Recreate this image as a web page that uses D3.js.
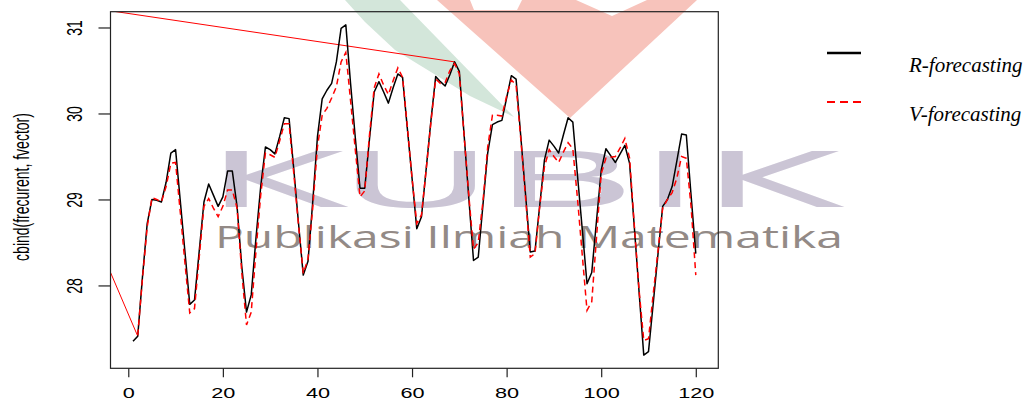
<!DOCTYPE html>
<html>
<head>
<meta charset="utf-8">
<script src="https://cdn.jsdelivr.net/npm/d3@7"></script>
<style>
  body { margin: 0; background: #fff; }
</style>
</head>
<body>
<div id="container"></div>
<script>
// Chart size and plot region (R base-graphics look)
const width = 1029;
const height = 407;
const marginTop = 11.7;
const marginRight = 310.7;
const marginBottom = 38.7;
const marginLeft = 110.5;
const stretch = 1.55; // the picture is wider than tall, so axis text looks stretched

// Data: time index and the two forecast series
const times = d3.range(1, 121);
const rForecast = [
  27.35, 27.41, 28.10, 28.72, 29.00, 28.99, 28.97, 29.20, 29.54, 29.58,
  28.98, 28.38, 27.78, 27.83, 28.40, 28.97, 29.18, 29.05, 28.92, 29.03,
  29.33, 29.33, 28.92, 28.22, 27.69, 27.89, 28.55, 29.15, 29.61, 29.58,
  29.53, 29.73, 29.95, 29.94, 29.35, 28.72, 28.12, 28.28, 28.97, 29.73,
  30.17, 30.27, 30.35, 30.60, 30.99, 31.03, 30.35, 29.72, 29.13, 29.13,
  29.70, 30.25, 30.37, 30.25, 30.12, 30.30, 30.46, 30.42, 29.83, 29.25,
  28.66, 28.80, 29.36, 29.92, 30.43, 30.37, 30.32, 30.45, 30.60, 30.49,
  29.76, 29.02, 28.29, 28.33, 28.94, 29.54, 29.87, 29.90, 29.92, 30.18,
  30.44, 30.40, 29.73, 29.06, 28.39, 28.40, 28.93, 29.46, 29.69, 29.62,
  29.54, 29.75, 29.95, 29.90, 29.27, 28.65, 28.02, 28.15, 28.75, 29.34,
  29.59, 29.51, 29.43, 29.53, 29.63, 29.42, 28.68, 27.93, 27.19, 27.23,
  27.79, 28.36, 28.92, 29.00, 29.15, 29.45, 29.76, 29.75, 29.05, 28.37
];
const vTimes = d3.range(2, 121);
const vForecast = [
         27.42, 28.08, 28.68, 29.02, 29.00, 28.97, 29.15, 29.42, 29.43,
  28.85, 28.25, 27.68, 27.73, 28.33, 28.92, 29.01, 28.90, 28.80, 28.92,
  29.11, 29.11, 28.90, 28.15, 27.54, 27.69, 28.40, 29.05, 29.54, 29.52,
  29.49, 29.68, 29.88, 29.88, 29.30, 28.70, 28.14, 28.31, 28.90, 29.61,
  29.98, 30.06, 30.18, 30.31, 30.60, 30.71, 30.15, 29.58, 29.03, 29.10,
  29.75, 30.30, 30.46, 30.33, 30.22, 30.38, 30.53, 30.42, 29.85, 29.25,
  28.72, 28.82, 29.35, 29.90, 30.40, 30.35, 30.36, 30.50, 30.58, 30.46,
  29.75, 29.05, 28.42, 28.50, 28.98, 29.61, 29.98, 29.98, 29.97, 30.20,
  30.39, 30.33, 29.70, 29.02, 28.33, 28.37, 28.92, 29.38, 29.58, 29.50,
  29.43, 29.55, 29.66, 29.59, 29.00, 28.35, 27.71, 27.81, 28.55, 29.30,
  29.48, 29.49, 29.50, 29.60, 29.71, 29.48, 28.70, 27.95, 27.36, 27.38,
  27.90, 28.40, 28.90, 29.00, 29.08, 29.25, 29.50, 29.48, 28.92, 28.12
];
// stray solid red segment (partly outside the plot region, clipped)
const connectorT = [69, -29, 2];
const connectorV = [30.60, 31.40, 27.41];

const xTicks = [0, 20, 40, 60, 80, 100, 120];
const yTicks = [28, 29, 30, 31];
const yTitle = "cbind(frecurent, fvector)";
const legendLabels = ["R-forecasting", "V-forecasting"];
const legendColours = ["#000000", "#ff0000"];

// Scales with R's 4% padding
const [t0, t1] = d3.extent(times);
const tPad = 0.04 * (t1 - t0);
const x = d3.scaleLinear()
  .domain([t0 - tPad, t1 + tPad])
  .range([marginLeft, width - marginRight]);

const vMin = d3.min(rForecast.concat(vForecast));
const vMax = d3.max(rForecast.concat(vForecast));
const vPad = 0.04 * (vMax - vMin);
const y = d3.scaleLinear()
  .domain([vMin - vPad, vMax + vPad])
  .range([height - marginBottom, marginTop]);

const svg = d3.create("svg").attr("width", width).attr("height", height);
document.getElementById("container").appendChild(svg.node());

// Watermark (KUBIK logo), drawn behind the chart
const wm = svg.append("g").attr("class", "watermark");
wm.append("polygon")
  .attr("points", "437,0 697,0 570,118")
  .attr("fill", "#f7c3bb");
wm.append("polygon")
  .attr("points", "470,0 522,0 517,10 474,10")
  .attr("fill", "#fff");
wm.append("polygon")
  .attr("points", "576,0 647,0 612,16")
  .attr("fill", "#fff");
wm.append("polygon")
  .attr("points", "345,0 400,0 514,117 470,96 395,50 365,22")
  .attr("fill", "#d3e6da");
wm.append("text")
  .attr("x", 205)
  .attr("y", 207)
  .attr("font-family", "DejaVu Sans")
  .attr("font-size", 77)
  .attr("textLength", 635)
  .attr("lengthAdjust", "spacingAndGlyphs")
  .attr("fill", "#cbc5d5")
  .text("KUBIK");
wm.append("text")
  .attr("x", 215)
  .attr("y", 248)
  .attr("font-family", "Open Sans")
  .attr("font-size", 31)
  .attr("textLength", 628)
  .attr("lengthAdjust", "spacingAndGlyphs")
  .attr("fill", "#938a86")
  .text("Publikasi Ilmiah Matematika");

// Clip to the plot region
svg.append("clipPath").attr("id", "plot-clip")
  .append("rect")
  .attr("x", marginLeft).attr("y", marginTop)
  .attr("width", width - marginRight - marginLeft)
  .attr("height", height - marginBottom - marginTop);

const line = d3.line().x(d => x(d[0])).y(d => y(d[1]));
const plot = svg.append("g").attr("clip-path", "url(#plot-clip)");

plot.append("path")
  .datum(d3.zip(connectorT, connectorV))
  .attr("fill", "none")
  .attr("stroke", "#ff0000")
  .attr("stroke-width", 1)
  .attr("d", line);

plot.append("path")
  .datum(d3.zip(times, rForecast))
  .attr("fill", "none")
  .attr("stroke", legendColours[0])
  .attr("stroke-width", 1.5)
  .attr("stroke-linejoin", "round")
  .attr("d", line);

plot.append("path")
  .datum(d3.zip(vTimes, vForecast))
  .attr("fill", "none")
  .attr("stroke", legendColours[1])
  .attr("stroke-width", 1.5)
  .attr("stroke-dasharray", "6,4")
  .attr("d", line);

// Box
svg.append("rect")
  .attr("x", marginLeft).attr("y", marginTop)
  .attr("width", width - marginRight - marginLeft)
  .attr("height", height - marginBottom - marginTop)
  .attr("fill", "none")
  .attr("stroke", "#222")
  .attr("stroke-width", 1.2);

// x-axis
svg.append("g")
  .attr("transform", `translate(0,${height - marginBottom})`)
  .call(d3.axisBottom(x).tickValues(xTicks).tickFormat(d3.format("d")).tickSize(9).tickSizeOuter(0))
  .call(g => g.select(".domain").remove())
  .call(g => g.selectAll("line").attr("stroke", "#222").attr("stroke-width", 1.2))
  .call(g => g.selectAll("text")
    .attr("y", 30).attr("dy", null)
    .attr("fill", "#000")
    .attr("font-family", "Liberation Sans, Arial, sans-serif")
    .attr("font-size", 14)
    .attr("transform", `scale(${stretch},1)`));

// y-axis
svg.append("g")
  .attr("transform", `translate(${marginLeft},0)`)
  .call(d3.axisLeft(y).tickValues(yTicks).tickFormat(d3.format("d")).tickSize(12).tickSizeOuter(0))
  .call(g => g.select(".domain").remove())
  .call(g => g.selectAll("line").attr("stroke", "#222").attr("stroke-width", 1.2))
  .call(g => g.selectAll("text")
    .attr("x", 0).attr("dy", null)
    .attr("text-anchor", "middle")
    .attr("fill", "#000")
    .attr("font-family", "Liberation Sans, Arial, sans-serif")
    .attr("font-size", 14)
    .attr("transform", `translate(-29,0) scale(${stretch},1) rotate(-90)`));

// y title
svg.append("text")
  .attr("transform", `translate(29,${(marginTop + height - marginBottom) / 2 - 3}) scale(${stretch},1) rotate(-90)`)
  .attr("text-anchor", "middle")
  .attr("font-family", "Liberation Sans, Arial, sans-serif")
  .attr("font-size", 14)
  .attr("fill", "#000")
  .text(yTitle);

// Legend
const legend = svg.append("g");
legendLabels.forEach((label, i) => {
  const row = legend.append("g").attr("transform", `translate(0,${i * 49})`);
  row.append("line")
    .attr("x1", 827).attr("x2", 861)
    .attr("y1", 53).attr("y2", 53)
    .attr("stroke", legendColours[i])
    .attr("stroke-width", i === 0 ? 2.4 : 2)
    .attr("stroke-dasharray", i === 0 ? null : "8,5");
  row.append("text")
    .attr("x", 909).attr("y", 72)
    .attr("font-family", "Liberation Serif, Times New Roman, serif")
    .attr("font-style", "italic")
    .attr("font-size", 21)
    .attr("fill", "#000")
    .text(label);
});
</script>
</body>
</html>
